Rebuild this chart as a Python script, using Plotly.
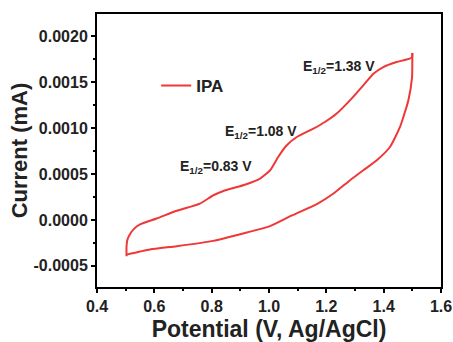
import plotly.graph_objects as go

# Forward (anodic) scan
fwd_potential = [0.503, 0.503, 0.506, 0.515, 0.53, 0.55, 0.608, 0.678, 0.759, 0.806, 0.841, 0.91, 0.969, 1.004,
                 1.032, 1.062, 1.097, 1.155, 1.195, 1.236, 1.288, 1.329, 1.364, 1.399, 1.445, 1.498, 1.5]
fwd_current = [-0.000395, -0.00029, -0.000215, -0.000155, -0.000095, -0.00005, 0.000015, 0.0001, 0.000178,
               0.000268, 0.000315, 0.000377, 0.00045, 0.00054, 0.000685, 0.000812, 0.000902, 0.000993,
               0.001065, 0.001157, 0.00132, 0.001464, 0.001591, 0.001663, 0.001717, 0.001765, 0.001815]
# Reverse (cathodic) scan
rev_potential = [1.5, 1.5, 1.499, 1.486, 1.457, 1.422, 1.376, 1.329, 1.283, 1.225, 1.17, 1.082, 1.004,
                 0.923, 0.806, 0.678, 0.585, 0.503]
rev_current = [0.001815, 0.00175, 0.00155, 0.0013, 0.001011, 0.000793, 0.000649, 0.00054, 0.000432, 0.000287,
               0.000178, 0.000051, -0.000068, -0.000137, -0.000228, -0.000286, -0.000322, -0.000378]

label_x = [1.244, 0.972, 0.815]
label_y = [0.00166, 0.000957, 0.000573]
label_text = ["E<sub>1/2</sub>=1.38 V", "E<sub>1/2</sub>=1.08 V", "E<sub>1/2</sub>=0.83 V"]

x_ticks = [0.4, 0.6, 0.8, 1.0, 1.2, 1.4, 1.6]
y_ticks = [-0.0005, 0.0, 0.0005, 0.0010, 0.0015, 0.0020]

FONT = "Liberation Sans, Arial, sans-serif"
RED = "rgb(240,55,55)"
TXT = "#222"

fig = go.Figure()
fig.add_trace(go.Scatter(x=fwd_potential, y=fwd_current, mode="lines", name="IPA",
                         line=dict(color=RED, width=2, shape="spline", smoothing=0.5)))
fig.add_trace(go.Scatter(x=rev_potential, y=rev_current, mode="lines", name="IPA", showlegend=False,
                         line=dict(color=RED, width=2, shape="spline", smoothing=0.5)))

for tx, ty, tt in zip(label_x, label_y, label_text):
    fig.add_annotation(x=tx, y=ty, text=tt, showarrow=False, xanchor="center", yanchor="middle",
                       font=dict(family=FONT, size=14, color=TXT, weight="bold"))

fig.update_layout(
    width=453, height=342,
    margin=dict(l=97, r=12, t=14, b=55),
    paper_bgcolor="white", plot_bgcolor="white",
    showlegend=True,
    legend=dict(x=0.172, y=0.736, xanchor="left", yanchor="middle", bgcolor="rgba(0,0,0,0)",
                font=dict(family=FONT, size=17, color=TXT, weight="bold")),
    font=dict(family=FONT, color=TXT),
)
fig.update_xaxes(range=[0.4, 1.6], tickvals=x_ticks, ticktext=[f"{v:.1f}" for v in x_ticks],
                 automargin=False,
                 showgrid=False, zeroline=False, showline=True, linecolor="black", linewidth=2, mirror=True,
                 ticks="outside", ticklen=4, tickwidth=1.5, tickcolor="black",
                 minor=dict(ticks="outside", ticklen=2, tickwidth=1.5, tickcolor="black", dtick=0.1, showgrid=False),
                 tickfont=dict(family=FONT, size=16, color=TXT, weight="bold"),
                 title=dict(text="Potential (V, Ag/AgCl)", standoff=8,
                            font=dict(family=FONT, size=23, color=TXT, weight="bold")))
fig.update_yaxes(range=[-0.00073, 0.00224], tickvals=y_ticks, ticktext=[f"{v:.4f}" for v in y_ticks],
                 automargin=False,
                 showgrid=False, zeroline=False, showline=True, linecolor="black", linewidth=2, mirror=True,
                 ticks="outside", ticklen=4, tickwidth=1.5, tickcolor="black",
                 minor=dict(ticks="outside", ticklen=2, tickwidth=1.5, tickcolor="black", dtick=0.00025, showgrid=False),
                 tickfont=dict(family=FONT, size=16, color=TXT, weight="bold"),
                 title=dict(text="Current (mA)", standoff=0,
                            font=dict(family=FONT, size=22, color=TXT, weight="bold")))

fig.write_html("out.html")
